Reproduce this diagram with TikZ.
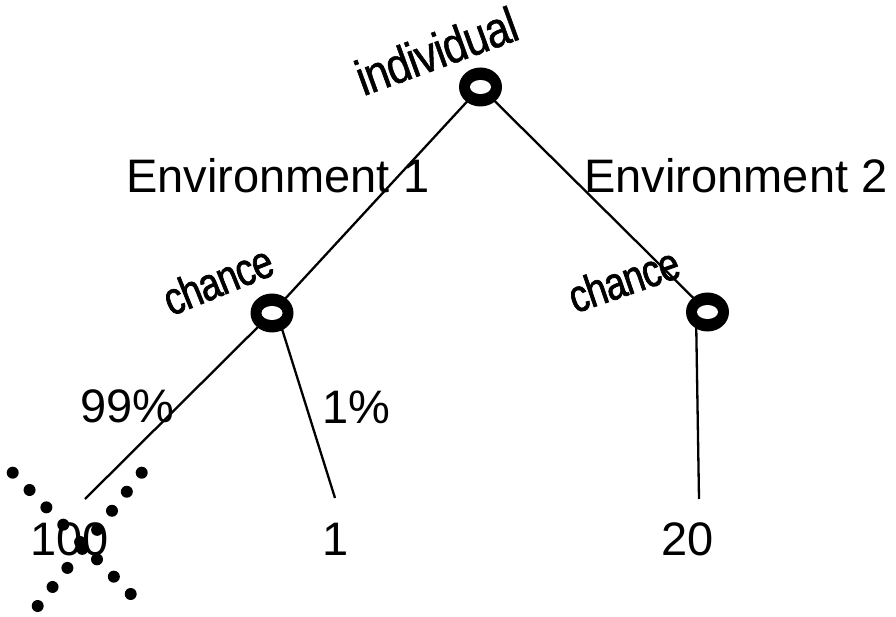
\documentclass[tikz,border=0pt]{standalone}
\usepackage{fontspec}
\setmainfont{Liberation Sans}
\newfontfamily\tightsans[FakeStretch=0.85,LetterSpace=-2,FakeBold=1]{Liberation Sans}
\newfontfamily\narrowsans[FakeStretch=0.8,LetterSpace=-2,FakeBold=1.5]{Liberation Sans}
\usetikzlibrary{calc}
\begin{document}
\begin{tikzpicture}[x=1pt,y=-1pt,
  link/.style={line width=2.3pt},
  bigtext/.style={inner sep=0pt, font=\fontsize{47}{50}\selectfont, anchor=base west},
  tilted/.style={inner sep=0pt, anchor=base},
  dot/.style={fill=black}]
\useasboundingbox (0,0) rectangle (896,617);

% decision points
\coordinate (top) at (480.5,87);
\coordinate (c1) at (272,313);
\coordinate (c2) at (707.5,312);

% loose ends of the branches
\coordinate (e100) at (85,499);
\coordinate (e1) at (335,498);
\coordinate (e20) at (699,499);

% branches
\draw[link] (top) -- (c1);
\draw[link] (top) -- (c2);
\draw[link] (c1) -- (e100);
\draw[link] ([xshift=5pt]c1) -- (e1);
\draw[link] ([xshift=-11.5pt]c2) -- (e20);

% ring markers
\foreach \p in {top,c1,c2}{
  \fill (\p) ellipse [x radius=21.5, y radius=19.5];
  \fill[white] (\p) ellipse [x radius=10.5, y radius=7];
}

% labels
\node[bigtext] (env1) at (126,193) {Environment 1};
\node[bigtext] (env2) at (584.3,193) {Environment 2};
\node[bigtext] (p99) at (80,422) {99\%};
\node[bigtext] (p1) at (322,423) {1\%};
\node[bigtext] (v100) at (30,555) {100};
\node[bigtext] (v1) at (322,555) {1};
\node[bigtext] (v20) at (661.5,555) {20};

\node[tilted, rotate=20, font=\tightsans\fontsize{50}{54}\selectfont] (lind) at (442.5,67.5) {individual};
\node[tilted, rotate=22, font=\narrowsans\fontsize{46}{50}\selectfont] (lch1) at (224,295) {chance};
\node[tilted, rotate=19, font=\narrowsans\fontsize{46}{50}\selectfont] (lch2) at (629,295) {chance};

% dotted cross over the first outcome
\coordinate (xa1) at (12.7,472.7);
\coordinate (xb1) at (130.7,594);
\coordinate (xa2) at (37.7,606);
\coordinate (xb2) at (141.7,472.7);
\foreach \i in {0,...,7}{
  \fill[dot] ($(xa1)!\i/7!(xb1)$) circle (6);
  \fill[dot] ($(xa2)!\i/7!(xb2)$) circle (6);
}
\end{tikzpicture}
\end{document}
